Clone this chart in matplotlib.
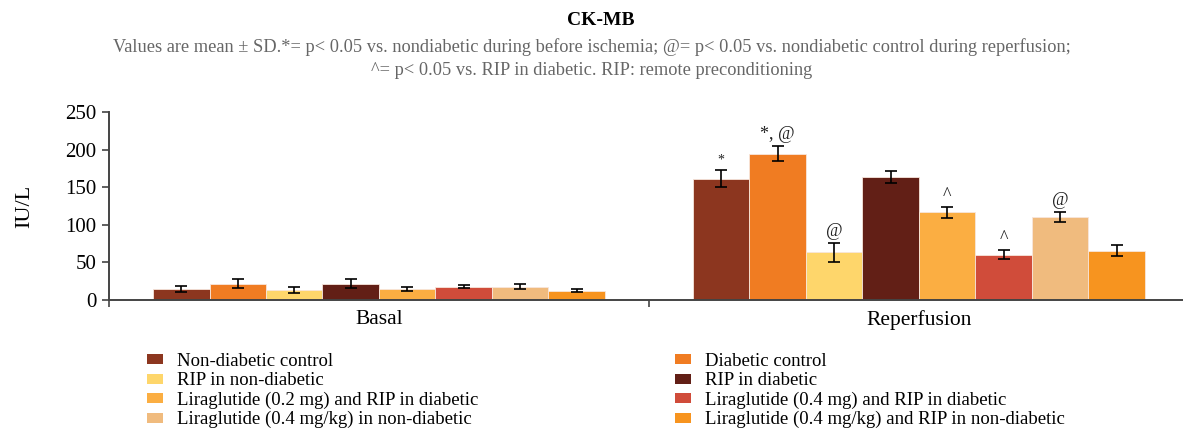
import matplotlib
matplotlib.use("Agg")
import matplotlib.pyplot as plt
import numpy as np
from matplotlib.patches import Patch

plt.rcParams['font.family'] = ['Liberation Serif', 'DejaVu Serif']

# data
groups = ['Basal', 'Reperfusion']
series = ['Non-diabetic control', 'Diabetic control', 'RIP in non-diabetic', 'RIP in diabetic',
          'Liraglutide (0.2 mg) and RIP in diabetic', 'Liraglutide (0.4 mg) and RIP in diabetic',
          'Liraglutide (0.4 mg/kg) in non-diabetic', 'Liraglutide (0.4 mg/kg) and RIP in non-diabetic']
colors = ['#8C361F', '#F07C22', '#FED66B', '#621F16', '#FBAE42', '#D04C3A', '#F0BB7E', '#F7941F']
basal = [14.7, 21.8, 13.8, 21.8, 15.1, 17.8, 17.8, 12.5]
basal_sd = [4.0, 5.5, 4.0, 6.0, 2.5, 2.0, 3.0, 2.5]
reperf = [161.5, 194.4, 63.2, 163.7, 116.5, 60.5, 110.3, 65.8]
reperf_sd = [11.8, 10.2, 12.7, 7.6, 7.1, 6.5, 7.1, 7.6]
reperf_marks = ['*', '*, @', '@', '', '^', '^', '@', '']

fig = plt.figure(figsize=(11.83, 4.29), dpi=100)
ax = fig.add_axes([0.0921, 0.3007, 0.9079, 0.4382])

n = len(series)
w = 0.1046
x = np.arange(len(groups))
for i in range(n):
    vals = [basal[i], reperf[i]]
    sds = [basal_sd[i], reperf_sd[i]]
    pos = x + (i - (n - 1) / 2) * w
    ax.bar(pos, vals, width=w, color=colors[i], edgecolor='#f7e6dc', linewidth=0.6, zorder=2)
    ax.errorbar(pos, vals, yerr=sds, fmt='none', ecolor='black', elinewidth=1.2,
                capsize=4.5, capthick=1.2, zorder=3)
    m = reperf_marks[i]
    if m:
        ax.text(pos[1], reperf[i] + reperf_sd[i] + 4, m, ha='center', va='bottom',
                fontsize=13 if '@' in m or '^' in m else 10, color='#222222')

ax.set_ylim(0, 250)
ax.set_xlim(-0.5, 1.489)
ax.set_yticks([0, 50, 100, 150, 200, 250])
ax.tick_params(axis='y', labelsize=15, length=5, width=1.2, color='#444444', pad=4)
ax.set_xticks([-0.5, 0.5], minor=True)
ax.set_xticks(x)
ax.set_xticklabels(groups)
ax.tick_params(axis='x', which='major', length=0, labelsize=15.5, pad=7)
ax.tick_params(axis='x', which='minor', length=5, width=1.2, color='#444444')
ax.set_ylabel('IU/L', fontsize=16, labelpad=22)
for s in ['top', 'right']:
    ax.spines[s].set_visible(False)
for s in ['left', 'bottom']:
    ax.spines[s].set_color('#444444')
    ax.spines[s].set_linewidth(1.4)

fig.text(0.508, 0.952, 'CK-MB', ha='center', va='center', fontsize=14, fontweight='bold')
fig.text(0.5, 0.8625, 'Values are mean \u00b1 SD.*= p< 0.05 vs. nondiabetic during before ischemia; '
         '@= p< 0.05 vs. nondiabetic control during reperfusion;\n'
         '^= p< 0.05 vs. RIP in diabetic. RIP: remote preconditioning',
         ha='center', va='center', fontsize=13.2, color='#666666', linespacing=1.45)

handles = [Patch(facecolor=c) for c in colors]
left = [0, 2, 4, 6]
right = [1, 3, 5, 7]
for idx, xpos in [(left, 0.124), (right, 0.571)]:
    fig.legend([handles[j] for j in idx], [series[j] for j in idx],
               loc='upper left', bbox_to_anchor=(xpos, 0.177), frameon=False,
               fontsize=13.5, handlelength=0.85, handleheight=0.45, handletextpad=0.75,
               labelspacing=0.12, borderaxespad=0, borderpad=0)

fig.savefig('out.png', dpi=100)
